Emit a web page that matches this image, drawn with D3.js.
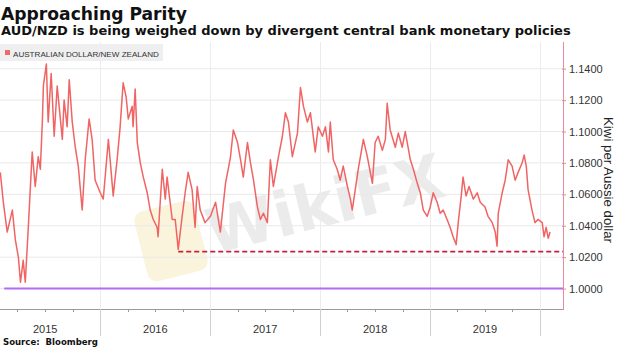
<!DOCTYPE html>
<html><head><meta charset="utf-8">
<script src="https://cdn.jsdelivr.net/npm/d3@7"></script>
<style>html,body{margin:0;padding:0;background:#fff;}svg{display:block;}</style>
</head><body>
<svg id="c" width="620" height="348"></svg>
<script>
const dates = ["2015-02-03","2015-02-13","2015-02-26","2015-03-15","2015-03-25","2015-04-04","2015-04-11","2015-04-20","2015-04-27","2015-05-07","2015-05-14","2015-05-20","2015-05-30","2015-06-09","2015-06-16","2015-06-23","2015-06-26","2015-07-06","2015-07-12","2015-07-22","2015-08-01","2015-08-11","2015-08-21","2015-08-28","2015-09-03","2015-09-13","2015-09-20","2015-09-30","2015-10-10","2015-10-20","2015-11-02","2015-11-12","2015-11-25","2015-12-05","2015-12-15",
"2016-01-01","2016-01-11","2016-01-28","2016-02-13","2016-02-26","2016-03-07","2016-03-17","2016-03-27","2016-04-03","2016-04-16","2016-04-19","2016-04-26","2016-05-03","2016-05-13","2016-05-23","2016-06-05","2016-06-15","2016-06-25","2016-07-08","2016-07-11","2016-07-25","2016-08-04","2016-08-10","2016-08-27","2016-09-06","2016-09-16","2016-09-29","2016-10-09","2016-10-19","2016-11-01","2016-11-11","2016-11-18","2016-11-28","2016-12-14",
"2017-01-01","2017-01-18","2017-02-03","2017-02-20","2017-03-08","2017-03-18","2017-04-01","2017-04-11","2017-04-20","2017-05-04","2017-05-14","2017-05-24","2017-06-06","2017-06-16","2017-06-26","2017-07-09","2017-07-19","2017-07-29","2017-08-15","2017-08-28","2017-09-07","2017-09-17","2017-09-30","2017-10-17","2017-10-27","2017-11-06","2017-11-19","2017-11-29","2017-12-15","2017-12-25",
"2018-01-08","2018-01-18","2018-01-28","2018-02-03","2018-02-13","2018-02-26","2018-03-08","2018-03-18","2018-04-01","2018-04-11","2018-04-17","2018-04-27","2018-05-07","2018-05-24","2018-06-06","2018-06-23","2018-07-02","2018-07-12","2018-07-26","2018-08-05","2018-08-11","2018-08-21","2018-09-07","2018-09-17","2018-09-30","2018-10-10","2018-10-27","2018-11-06","2018-11-19","2018-11-29","2018-12-09","2018-12-22",
"2019-01-01","2019-01-11","2019-01-24","2019-02-03","2019-02-13","2019-02-26","2019-03-08","2019-03-18","2019-03-28","2019-04-04","2019-04-14","2019-04-20","2019-04-30","2019-05-10","2019-05-24","2019-06-06","2019-06-16","2019-07-02","2019-07-12","2019-07-26","2019-08-05","2019-08-11","2019-08-15","2019-08-28","2019-09-07","2019-09-17","2019-09-30","2019-10-10","2019-10-20","2019-11-02","2019-11-09","2019-11-16","2019-11-22","2019-12-05","2019-12-15","2019-12-25",
"2020-01-08","2020-01-14","2020-01-21","2020-01-28","2020-02-03"];
const audNzd = [1.074,1.055,1.036,1.050,1.031,1.020,1.004,1.018,1.004,1.039,1.065,1.087,1.065,1.084,1.076,1.108,1.129,1.143,1.106,1.137,1.097,1.129,1.109,1.095,1.120,1.103,1.133,1.106,1.090,1.078,1.050,1.082,1.108,1.095,1.069,
1.061,1.057,1.095,1.059,1.082,1.103,1.131,1.122,1.108,1.116,1.103,1.127,1.093,1.080,1.071,1.061,1.050,1.044,1.039,1.033,1.076,1.057,1.071,1.044,1.044,1.025,1.046,1.061,1.074,1.063,1.039,1.065,1.050,1.042,
1.046,1.055,1.036,1.067,1.083,1.101,1.093,1.082,1.071,1.093,1.080,1.069,1.052,1.044,1.048,1.042,1.082,1.065,1.084,1.097,1.112,1.106,1.084,1.099,1.128,1.116,1.106,1.112,1.087,1.103,
1.097,1.103,1.087,1.106,1.082,1.076,1.069,1.078,1.065,1.057,1.050,1.063,1.076,1.095,1.084,1.067,1.093,1.097,1.088,1.095,1.118,1.101,1.090,1.099,1.090,1.100,1.082,1.076,1.067,1.061,1.050,1.046,
1.052,1.061,1.055,1.048,1.050,1.044,1.039,1.033,1.028,1.042,1.059,1.071,1.059,1.065,1.057,1.061,1.055,1.052,1.046,1.042,1.036,1.027,1.048,1.061,1.069,1.082,1.078,1.069,1.074,1.080,1.085,1.078,1.063,1.050,1.042,1.044,
1.042,1.033,1.039,1.032,1.036];
const yTicks = [1.00,1.02,1.04,1.06,1.08,1.10,1.12,1.14];
const yearLabels = ["2015","2016","2017","2018","2019"];
const supportLevel = 1.0235;
const supportStart = "2016-09-16";
const parityLevel = 1.0;
const parityStart = "2015-02-16";
const xDomain = ["2015-02-02","2020-03-17"];
const yDomain = [0.987, 1.157];

const parse = d3.timeParse("%Y-%m-%d");
const series = dates.map((d,i)=>({date:parse(d), v:audNzd[i]}));

const W=620,H=348, L=0, R=563, T=42, B=309;
const svg = d3.select("#c");
const x = d3.scaleTime().domain(xDomain.map(parse)).range([L,R]);
const y = d3.scaleLinear().domain(yDomain).range([B,T]);

function fit(sel, target){
  const n = sel.node(); const fs = parseFloat(sel.attr("font-size"));
  const w = n.getComputedTextLength(); if(w>0) sel.attr("font-size", fs*target/w);
}

// watermark
svg.append("rect").attr("x",140).attr("y",205).attr("width",62).attr("height",72).attr("rx",10)
  .attr("fill","#f3d98a").attr("opacity",0.3).attr("transform","rotate(-14,171,241)");
const wm = svg.append("g").attr("opacity",0.14).attr("transform","translate(330,225) rotate(-14)");
wm.append("text").attr("text-anchor","middle").attr("font-family","DejaVu Sans").attr("font-weight","bold")
  .attr("font-size",62).attr("fill","#777").text("WikiFX");

// grid
svg.append("g").selectAll("line").data(yTicks).join("line")
  .attr("x1",L).attr("x2",R).attr("y1",d=>y(d)).attr("y2",d=>y(d))
  .attr("stroke","#e9e9e9").attr("stroke-width",1);
const years = [2016,2017,2018,2019,2020].map(yr=>new Date(yr,0,1));
svg.append("g").selectAll("line").data(years).join("line")
  .attr("x1",d=>Math.round(x(d))+0.5).attr("x2",d=>Math.round(x(d))+0.5).attr("y1",T).attr("y2",B)
  .attr("stroke","#ececec");

// reference lines
svg.append("line").attr("x1",x(parse(parityStart))).attr("x2",R).attr("y1",y(parityLevel)).attr("y2",y(parityLevel))
  .attr("stroke","#b36bf5").attr("stroke-width",2);
svg.append("line").attr("x1",x(parse(supportStart))).attr("x2",R).attr("y1",y(supportLevel)).attr("y2",y(supportLevel))
  .attr("stroke","#c8203f").attr("stroke-width",1.6).attr("stroke-dasharray","5,3");

// series line
svg.append("path").datum(series)
  .attr("d", d3.line().x(d=>x(d.date)).y(d=>y(d.v)))
  .attr("fill","none").attr("stroke","#f06464").attr("stroke-width",1.5).attr("stroke-linejoin","round");

// bottom axis
svg.append("line").attr("x1",L).attr("x2",R).attr("y1",B+0.5).attr("y2",B+0.5).attr("stroke","#9a9a9a");
const quarters = d3.timeMonth.every(3).range(x.domain()[0], x.domain()[1]);
svg.append("g").selectAll("line").data(quarters.filter(d=>d.getMonth()!==0)).join("line")
  .attr("x1",d=>Math.round(x(d))+0.5).attr("x2",d=>Math.round(x(d))+0.5).attr("y1",B).attr("y2",B+3)
  .attr("stroke","#9a9a9a");
svg.append("g").selectAll("line").data(years).join("line")
  .attr("x1",d=>Math.round(x(d))+0.5).attr("x2",d=>Math.round(x(d))+0.5).attr("y1",B).attr("y2",B+27)
  .attr("stroke","#cfcfcf");
svg.append("g").selectAll("text").data(yearLabels).join("text")
  .attr("x",d=>x(new Date(+d,6,2))).attr("y",333).attr("text-anchor","middle")
  .attr("font-family","Liberation Sans").attr("font-size",11).attr("fill","#333").text(d=>d);

// right axis
svg.append("line").attr("x1",R+0.5).attr("x2",R+0.5).attr("y1",T).attr("y2",B+1).attr("stroke","#e58aa0");
const ax = svg.append("g").attr("transform",`translate(${R},0)`)
  .call(d3.axisRight(y).tickValues(yTicks).tickFormat(d3.format(".4f")).tickSize(3).tickPadding(3));
ax.select(".domain").remove();
ax.selectAll(".tick line").attr("stroke","#e58aa0").attr("x1",-1);
ax.selectAll(".tick text").attr("font-family","Liberation Sans").attr("font-size",11).attr("fill","#333");

const at = svg.append("text").attr("transform","translate(604,180) rotate(90)").attr("text-anchor","middle")
  .attr("font-family","Liberation Sans").attr("font-size",13).attr("fill","#222").text("Kiwi per Aussie dollar");
fit(at,126);

// legend
svg.append("rect").attr("x",0).attr("y",44).attr("width",163).attr("height",17).attr("fill","#efefef");
svg.append("rect").attr("x",5).attr("y",50).attr("width",5).attr("height",5).attr("fill","#ea6b6b");
const lt = svg.append("text").attr("x",13).attr("y",56.5).attr("font-family","Liberation Sans Narrow, Liberation Sans")
  .attr("font-size",9).attr("fill","#333").text("AUSTRALIAN DOLLAR/NEW ZEALAND");
fit(lt,146);

// titles
const t1 = svg.append("text").attr("x",1).attr("y",20).attr("font-family","DejaVu Sans").attr("font-weight","bold")
  .attr("font-size",19).attr("fill","#111").text("Approaching Parity");
fit(t1,186);
const t2 = svg.append("text").attr("x",1).attr("y",35).attr("font-family","DejaVu Sans").attr("font-weight","bold")
  .attr("font-size",12).attr("fill","#111").text("AUD/NZD is being weighed down by divergent central bank monetary policies");
fit(t2,570);
const src = svg.append("text").attr("x",3).attr("y",345).attr("font-family","DejaVu Sans").attr("font-weight","bold")
  .attr("font-size",9).attr("fill","#111").attr("xml:space","preserve").text("Source:  Bloomberg");
fit(src,95);
</script>
</body></html>
